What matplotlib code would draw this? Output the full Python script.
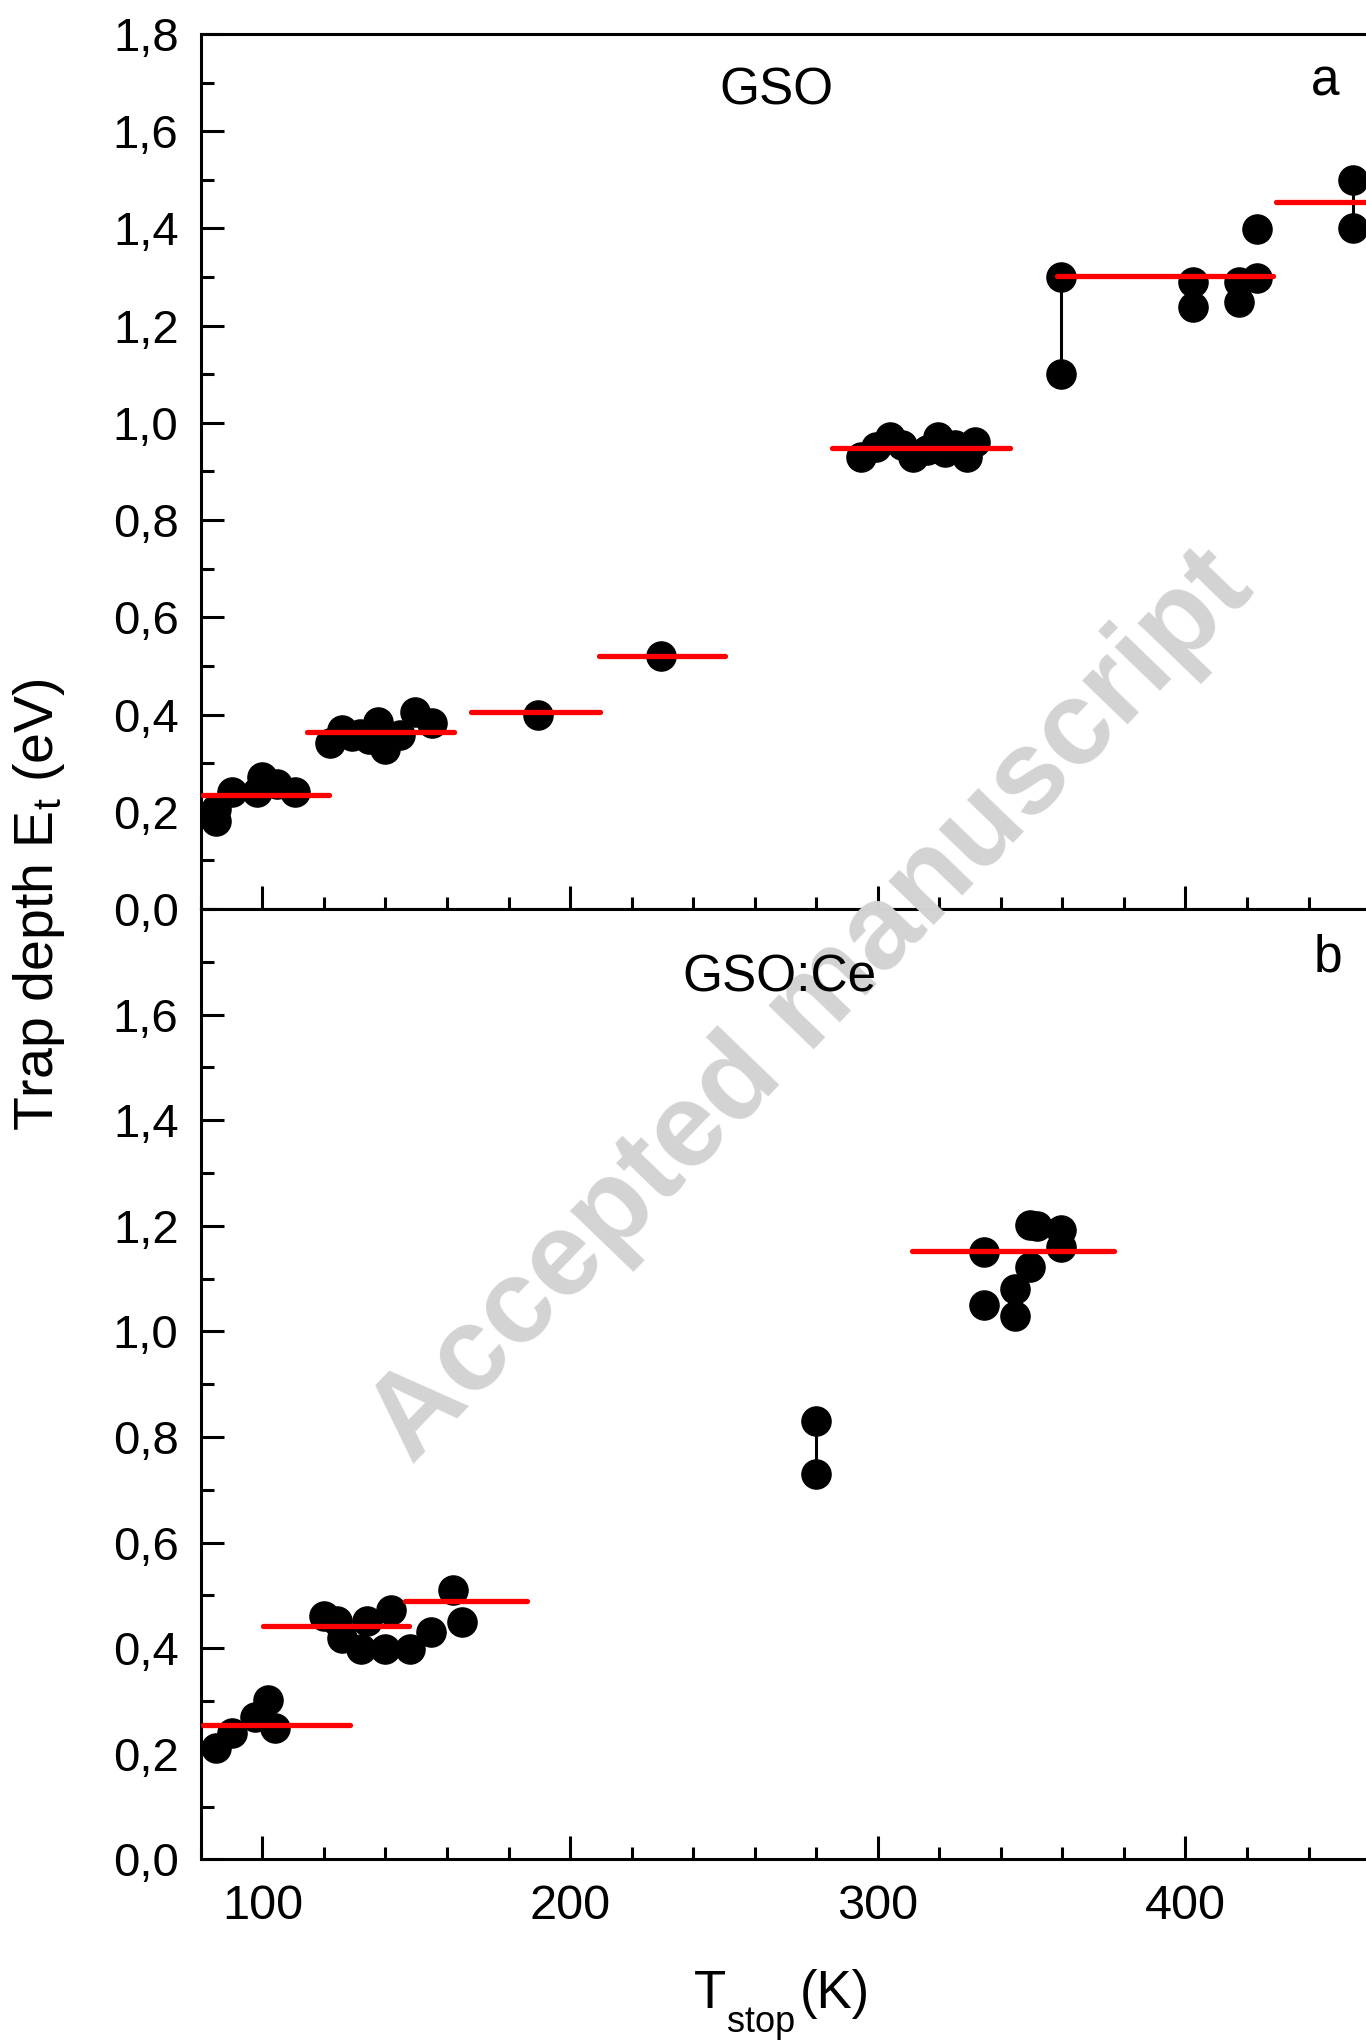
import matplotlib
matplotlib.use('Agg')
import matplotlib.pyplot as plt
from matplotlib.ticker import MultipleLocator, FuncFormatter

plt.rcParams['font.family'] = ['Liberation Sans', 'DejaVu Sans']
plt.rcParams['mathtext.fontset'] = 'custom'
plt.rcParams['mathtext.rm'] = 'Liberation Sans'
plt.rcParams['mathtext.it'] = 'Liberation Sans:italic'
plt.rcParams['mathtext.default'] = 'regular'

# ---------------- data: GSO (panel a) ----------------
gso_T = [84.9, 84.9, 90.0, 98.2, 99.8, 104.9, 110.6,
         122.0, 125.8, 129.0, 131.7, 134.5, 137.7, 139.9, 144.7, 149.6, 155.0,
         189.5, 229.7,
         294.5, 299.5, 304.0, 308.0, 311.5, 316.0, 319.5, 322.0, 325.0, 329.0, 331.5,
         402.6, 402.6, 417.4, 417.4, 423.3, 423.3]
gso_E = [0.205, 0.180, 0.241, 0.241, 0.272, 0.258, 0.241,
         0.341, 0.368, 0.355, 0.361, 0.350, 0.385, 0.330, 0.358, 0.406, 0.382,
         0.400, 0.520,
         0.930, 0.950, 0.971, 0.955, 0.930, 0.945, 0.970, 0.940, 0.955, 0.930, 0.960,
         1.289, 1.239, 1.289, 1.248, 1.299, 1.399]
gso_pair_T = [359.5, 454.4]
gso_pair_low = [1.10, 1.40]
gso_pair_high = [1.30, 1.50]
gso_fit_start = [80.8, 114.6, 167.9, 209.4, 285.0, 358.2, 429.4]
gso_fit_end = [121.8, 162.3, 209.8, 250.4, 343.0, 428.5, 470.0]
gso_fit_E = [0.234, 0.364, 0.405, 0.520, 0.948, 1.303, 1.454]

# ---------------- data: GSO:Ce (panel b) ----------------
ce_T = [84.9, 90.0, 97.6, 101.9, 104.1,
        120.0, 124.2, 125.8, 132.1, 133.9, 139.9, 141.7, 148.0, 154.8, 161.9, 165.0,
        334.5, 334.5, 344.6, 344.6, 349.5, 349.5, 351.9, 359.6, 359.6]
ce_E = [0.210, 0.240, 0.270, 0.301, 0.249,
        0.461, 0.451, 0.420, 0.399, 0.451, 0.399, 0.472, 0.399, 0.430, 0.510, 0.450,
        1.151, 1.050, 1.029, 1.081, 1.121, 1.202, 1.200, 1.192, 1.160]
ce_pair_T = [279.8]
ce_pair_low = [0.730]
ce_pair_high = [0.830]
ce_fit_start = [80.8, 100.3, 146.2, 311.0]
ce_fit_end = [128.5, 147.8, 185.9, 376.8]
ce_fit_E = [0.254, 0.442, 0.489, 1.153]

yticks = [0.0, 0.2, 0.4, 0.6, 0.8, 1.0, 1.2, 1.4, 1.6, 1.8]
xticks = [100, 200, 300, 400]

# ---------------- figure ----------------
W, H = 1366, 2041
fig = plt.figure(figsize=(W / 100, H / 100), dpi=100)

left = 200.8 / W
width = 1169.3 / W
ax_top = fig.add_axes([left, 1 - 909 / H, width, (909 - 34) / H])
ax_bot = fig.add_axes([left, 1 - 1859.3 / H, width, (1859.3 - 909) / H])

comma = FuncFormatter(lambda v, p: f"{v:.1f}".replace('.', ','))


def draw(ax, T, E, pT, plo, phi, fs, fe, fE):
    for t, lo, hi in zip(pT, plo, phi):
        ax.plot([t, t], [lo, hi], color='black', lw=2.2, zorder=2)
    ax.plot(T, E, 'o', color='black', ms=21, mec='black', ls='none', zorder=3)
    ax.plot(pT, plo, 'o', color='black', ms=21, ls='none', zorder=3)
    ax.plot(pT, phi, 'o', color='black', ms=21, ls='none', zorder=3)
    for s, e, v in zip(fs, fe, fE):
        ax.plot([s, e], [v, v], color='red', lw=3.8, solid_capstyle='round', zorder=4)
    ax.set_xlim(80, 460)
    ax.set_ylim(0, 1.8)
    ax.set_yticks(yticks)
    ax.yaxis.set_minor_locator(MultipleLocator(0.1))
    ax.set_xticks(xticks)
    ax.xaxis.set_minor_locator(MultipleLocator(20))
    ax.yaxis.set_major_formatter(comma)
    for sp in ax.spines.values():
        sp.set_linewidth(2.2)
    ax.tick_params(axis='both', which='both', direction='in', width=2.2,
                   top=False, right=False)
    ax.tick_params(axis='both', which='major', length=16.5)
    ax.tick_params(axis='both', which='minor', length=9)
    ax.tick_params(axis='y', which='major', labelsize=34, pad=16)
    ax.tick_params(axis='x', which='major', labelsize=35, pad=18)


draw(ax_top, gso_T, gso_E, gso_pair_T, gso_pair_low, gso_pair_high,
     gso_fit_start, gso_fit_end, gso_fit_E)
draw(ax_bot, ce_T, ce_E, ce_pair_T, ce_pair_low, ce_pair_high,
     ce_fit_start, ce_fit_end, ce_fit_E)

ax_top.tick_params(axis='x', labelbottom=False)
ax_bot.set_yticks(yticks[:-1])

# panel labels
fig.text(776 / W, 1 - 91 / H, 'GSO', fontsize=37, ha='center', va='center')
fig.text(1325 / W, 1 - 82 / H, 'a', fontsize=37, ha='center', va='center')
fig.text(779 / W, 1 - 978 / H, 'GSO:Ce', fontsize=37, ha='center', va='center')
fig.text(1328 / W, 1 - 958 / H, 'b', fontsize=37, ha='center', va='center')

# axis labels
fig.text(39 / W, 1 - 905 / H, r'Trap depth E$_t$ (eV)', fontsize=40,
         rotation=90, ha='center', va='center')
fig.text(694 / W, 1 - 2008 / H, 'T', fontsize=38, ha='left', va='baseline')
fig.text(727 / W, 1 - 2032 / H, 'stop', fontsize=26, ha='left', va='baseline')
fig.text(800 / W, 1 - 2008 / H, '(K)', fontsize=38, ha='left', va='baseline')

# watermark
fig.text(812 / W, 1 - 1007 / H, 'Accepted manuscript', fontsize=86,
         fontweight='bold', color='#d3d3d3', rotation=46,
         rotation_mode='anchor', ha='center', va='center', zorder=0)

fig.savefig('out.png', dpi=100)
